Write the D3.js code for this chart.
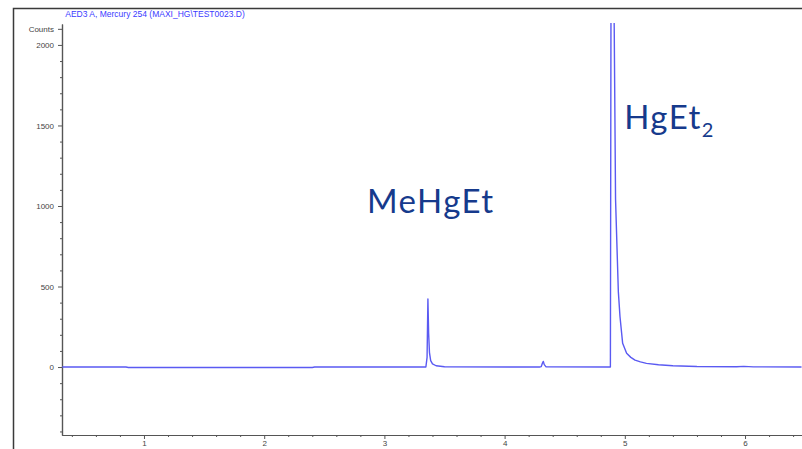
<!DOCTYPE html>
<html>
<head>
<meta charset="utf-8">
<script src="https://cdn.jsdelivr.net/npm/d3@7"></script>
<style>
  html, body { margin: 0; padding: 0; background: #fff; }
  svg { display: block; }
</style>
</head>
<body>
<svg id="chart" width="802" height="449"></svg>
<script>
// ---- Data ----
const chartTitle = "AED3 A, Mercury 254 (MAXI_HG\\TEST0023.D)";
const yAxisLabel = "Counts";
const timeMin = [0.32, 0.85, 0.87, 2.40, 2.42, 3.30, 3.345, 3.355, 3.362, 3.368, 3.375, 3.385, 3.40, 3.43, 3.50,
                 4.29, 4.305, 4.315, 4.322, 4.33, 4.345, 4.86, 4.880, 4.886, 4.895, 4.904, 4.912, 4.923, 4.946,
                 4.960, 4.982, 5.015, 5.050, 5.085, 5.130, 5.180, 5.280, 5.400, 5.600, 5.930, 5.990, 6.070, 6.470];
const counts  = [0, 0, -3, -3, 0, 0, 0, 60, 422, 210, 90, 40, 20, 8, 2,
                 0, 3, 25, 35, 15, 1, 0, 0, 2700, 2800, 2600, 2100, 1040, 470,
                 312, 147, 85, 60, 43, 32, 23, 14, 8, 3, 2, 4, 1, 0];
const xTickMajor = [1, 2, 3, 4, 5, 6];
const yTickMajor = [0, 500, 1000, 1500, 2000];
const peakLabels = ["MeHgEt", "HgEt"];
const peakLabelSub = ["", "2"];
const peakLabelTime = [2.855, 4.995];
const peakLabelCount = [956, 1478];

// ---- Layout ----
const svg = d3.select("#chart");
const L = 62, R = 802, T = 24, B = 435;
const x = d3.scaleLinear().domain([0.318, 6.474]).range([L, R]);
const y = d3.scaleLinear().domain([-422, 2130]).range([B, T]);

// outer frame
svg.append("path")
  .attr("d", "M13.5,449 V8.5 H802")
  .attr("fill", "none").attr("stroke", "#3a3a3a").attr("stroke-width", 1.5);

// title
svg.append("text")
  .attr("x", 155).attr("y", 17)
  .attr("text-anchor", "middle")
  .attr("font-family", "Arial, 'Liberation Sans', sans-serif")
  .attr("font-size", 8.5)
  .attr("fill", "#3b3bff")
  .text(chartTitle);

// ---- Axes ----
const axisColor = "#555";
const yMinor = d3.range(-400, 2101, 100).filter(v => v % 500 !== 0 && v !== 2100);
const gyMinor = svg.append("g").attr("transform", `translate(${L},0)`)
  .call(d3.axisLeft(y).tickValues(yMinor).tickSize(2).tickSizeOuter(0).tickFormat(""));
const gy = svg.append("g").attr("transform", `translate(${L},0)`)
  .call(d3.axisLeft(y).tickValues(yTickMajor.concat([2100])).tickSize(4).tickSizeOuter(0)
        .tickFormat(d => d === 2100 ? yAxisLabel : d3.format("d")(d)));
gy.selectAll("text")
  .attr("font-family", "Arial, 'Liberation Sans', sans-serif")
  .attr("font-size", 8).attr("fill", "#444").attr("x", -8);

const xMinor = d3.range(0.4, 6.41, 0.2).filter(v => Math.abs(v - Math.round(v)) > 0.01);
const gxMinor = svg.append("g").attr("transform", `translate(0,${B})`)
  .call(d3.axisBottom(x).tickValues(xMinor).tickSize(2).tickSizeOuter(0).tickFormat(""));
const gx = svg.append("g").attr("transform", `translate(0,${B})`)
  .call(d3.axisBottom(x).tickValues(xTickMajor).tickSize(4).tickSizeOuter(0).tickFormat(d3.format("d")));
gx.selectAll("text")
  .attr("font-family", "Arial, 'Liberation Sans', sans-serif")
  .attr("font-size", 8).attr("fill", "#444").attr("dy", "0.55em");

[gyMinor, gy, gxMinor, gx].forEach(g => {
  g.select(".domain").attr("stroke", axisColor).attr("stroke-width", 1.2);
  g.selectAll(".tick line").attr("stroke", axisColor);
});

// ---- Trace ----
svg.append("clipPath").attr("id", "plotclip")
  .append("rect").attr("x", L).attr("y", T - 1).attr("width", R - L).attr("height", B - T + 1);

const line = d3.line().x((d, i) => x(timeMin[i])).y(d => y(d));
svg.append("path")
  .datum(counts)
  .attr("clip-path", "url(#plotclip)")
  .attr("d", line)
  .attr("fill", "none")
  .attr("stroke", "#5a5af2")
  .attr("stroke-width", 1.4)
  .attr("stroke-linejoin", "round");

// ---- Peak annotations ----
peakLabels.forEach((lab, i) => {
  const t = svg.append("text")
    .attr("x", x(peakLabelTime[i]))
    .attr("y", y(peakLabelCount[i]))
    .attr("font-family", "Lato, 'Open Sans', sans-serif")
    .attr("font-size", 33)
    .attr("letter-spacing", 1.5)
    .attr("fill", "#163a8c")
    .text(lab);
  if (peakLabelSub[i]) {
    t.append("tspan").attr("font-size", 20).attr("dy", 8).attr("letter-spacing", 0).text(peakLabelSub[i]);
  }
});
</script>
</body>
</html>
